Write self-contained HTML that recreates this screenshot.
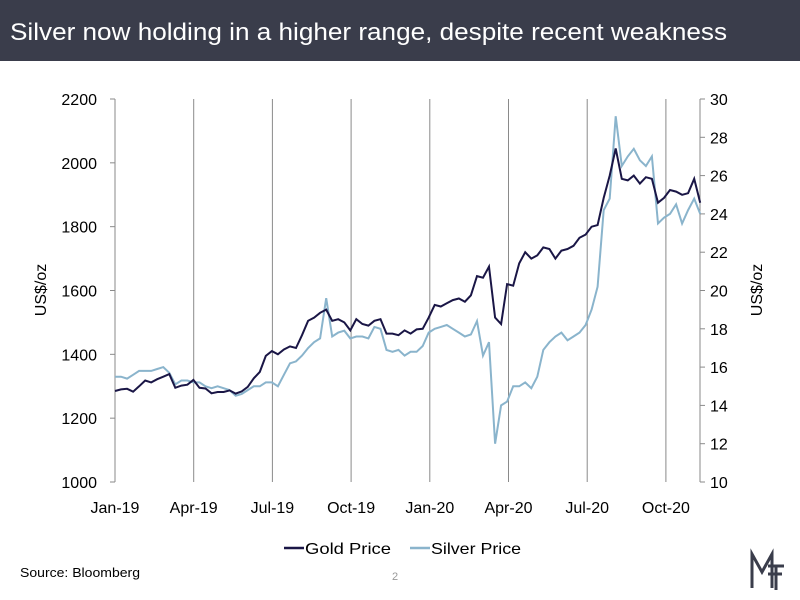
<!DOCTYPE html>
<html><head><meta charset="utf-8"><style>
body{margin:0;background:#fff;font-family:"Liberation Sans",sans-serif}
svg{display:block}
</style></head><body>
<svg id="chart" width="800" height="600">
<rect x="0" y="0" width="800" height="61" fill="#3a3d4b"/>
<text x="10" y="40" fill="#fff" font-size="24" textLength="717" lengthAdjust="spacingAndGlyphs">Silver now holding in a higher range, despite recent weakness</text>
<g id="grid"></g><g id="axes"></g><g id="series"></g>
<text transform="translate(46,290) rotate(-90)" text-anchor="middle" font-size="16">US$/oz</text>
<text transform="translate(762,290) rotate(-90)" text-anchor="middle" font-size="16">US$/oz</text>
<g>
<line x1="284" y1="548" x2="304" y2="548" stroke="#1a1646" stroke-width="2.5"/>
<text x="305" y="554" font-size="16" textLength="86" lengthAdjust="spacingAndGlyphs">Gold Price</text>
<line x1="410" y1="548" x2="430" y2="548" stroke="#8ab4cc" stroke-width="2.5"/>
<text x="431" y="554" font-size="16" textLength="90" lengthAdjust="spacingAndGlyphs">Silver Price</text>
</g>
<text x="20" y="577" font-size="13" textLength="120" lengthAdjust="spacingAndGlyphs">Source: Bloomberg</text>
<text x="392" y="580" font-size="11" fill="#999">2</text>
<g stroke="#3a3d4b" stroke-width="3" fill="none">
<path d="M752 588 V554 L762 572 L772 554 V588"/><path d="M768 566 H784 M768 574 H782 M776 566 V590"/>
</g>
</svg>
<script>
const xLabels=["Jan-19","Apr-19","Jul-19","Oct-19","Jan-20","Apr-20","Jul-20","Oct-20"];
const leftTicks=[1000,1200,1400,1600,1800,2000,2200];
const rightTicks=[10,12,14,16,18,20,22,24,26,28,30];
const gold=[1285,1290,1292,1283,1300,1318,1312,1322,1330,1338,1295,1302,1305,1320,1295,1293,1278,1282,1282,1287,1277,1284,1298,1325,1345,1395,1410,1400,1415,1425,1420,1460,1505,1515,1530,1540,1505,1510,1500,1475,1510,1495,1490,1505,1510,1465,1465,1460,1475,1465,1478,1480,1515,1555,1550,1560,1570,1575,1565,1585,1645,1640,1675,1515,1495,1620,1615,1685,1720,1700,1710,1735,1730,1700,1725,1730,1740,1765,1775,1800,1805,1890,1960,2045,1950,1945,1960,1935,1955,1950,1875,1890,1915,1910,1900,1905,1950,1875];
const silver=[15.5,15.5,15.4,15.6,15.8,15.8,15.8,15.9,16.0,15.7,15.1,15.3,15.3,15.2,15.2,15.0,14.9,15.0,14.9,14.8,14.5,14.6,14.8,15.0,15.0,15.2,15.2,15.0,15.6,16.2,16.3,16.6,17.0,17.3,17.5,19.6,17.6,17.8,17.9,17.5,17.6,17.6,17.5,18.1,18.0,16.9,16.8,16.9,16.6,16.8,16.8,17.1,17.8,18.0,18.1,18.2,18.0,17.8,17.6,17.7,18.4,16.6,17.3,12.0,14.0,14.2,15.0,15.0,15.2,14.9,15.5,16.9,17.3,17.6,17.8,17.4,17.6,17.8,18.2,19.0,20.2,24.2,24.8,29.1,26.5,27.0,27.4,26.8,26.5,27.0,23.5,23.8,24.0,24.5,23.5,24.2,24.8,24.0];
const NS="http://www.w3.org/2000/svg";
const X0=115,QW=78.7,WK=QW*4/52.18,TOP=99,BOT=482;
const xq=i=>X0+i*QW, xw=i=>X0+i*WK;
const yL=v=>BOT-(v-1000)/1200*(BOT-TOP);
const yR=v=>BOT-(v-10)/20*(BOT-TOP);
function mk(t,a,p){const e=document.createElementNS(NS,t);for(const k in a)e.setAttribute(k,a[k]);p.appendChild(e);return e;}
const grid=document.getElementById('grid'),axes=document.getElementById('axes'),ser=document.getElementById('series');
xLabels.forEach((l,i)=>{
 if(i>0){const g=mk('line',{x1:xq(i),x2:xq(i),y1:TOP,y2:BOT,stroke:'#8a8a8a','stroke-width':1},grid);
 
 }
 const t=mk('text',{x:xq(i),y:513,'text-anchor':'middle','font-size':16},axes);t.textContent=l;
 
 
});
mk('line',{x1:X0,x2:X0,y1:TOP,y2:BOT,stroke:'#8a8a8a'},axes);
mk('line',{x1:700,x2:700,y1:TOP,y2:BOT,stroke:'#8a8a8a'},axes);
leftTicks.forEach(v=>{
 mk('line',{x1:X0-5,x2:X0,y1:yL(v),y2:yL(v),stroke:'#8a8a8a'},axes);
 const t=mk('text',{x:97,y:yL(v)+6,'text-anchor':'end','font-size':16},axes);t.textContent=v;
 
 
});
rightTicks.forEach(v=>{
 mk('line',{x1:700,x2:705,y1:yR(v),y2:yR(v),stroke:'#8a8a8a'},axes);
 const t=mk('text',{x:710,y:yR(v)+6,'font-size':16},axes);t.textContent=v;
 
 
});
const sp=mk('polyline',{points:silver.map((v,i)=>xw(i).toFixed(1)+','+yR(v).toFixed(1)).join(' '),fill:'none',stroke:'#8ab4cc','stroke-width':2},ser);


const gp=mk('polyline',{points:gold.map((v,i)=>xw(i).toFixed(1)+','+yL(v).toFixed(1)).join(' '),fill:'none',stroke:'#1a1646','stroke-width':2},ser);


</script>
</body></html>
